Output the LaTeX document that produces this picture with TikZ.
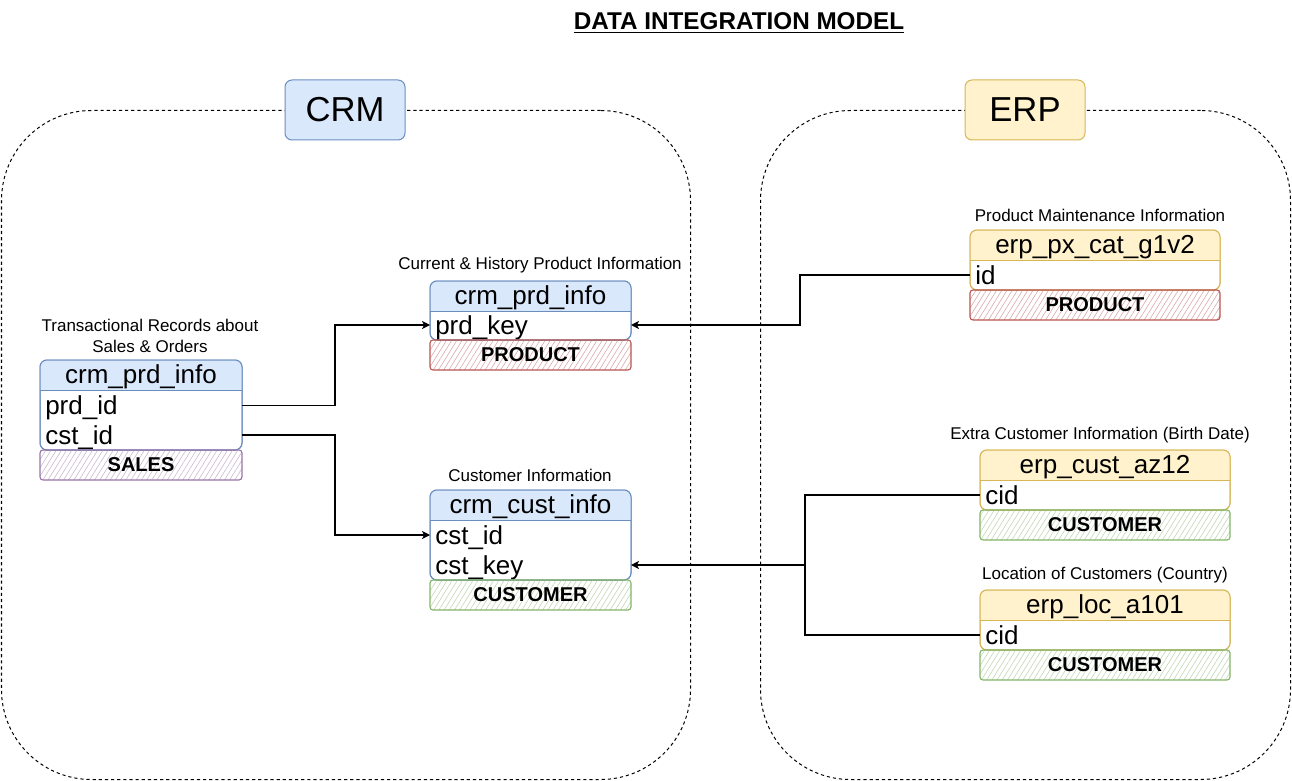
\documentclass[tikz,border=0pt]{standalone}
\usepackage{fontspec}
\setmainfont{Liberation Sans}
\usetikzlibrary{arrows.meta,patterns.meta,calc}
\newcommand{\px}{*0.75pt}
\definecolor{bluef}{HTML}{DAE8FC}
\definecolor{blues}{HTML}{6C8EBF}
\definecolor{yelf}{HTML}{FFF2CC}
\definecolor{yels}{HTML}{D6B656}
\definecolor{reds}{HTML}{B85450}
\definecolor{grns}{HTML}{82B366}
\definecolor{purs}{HTML}{9673A6}
\newcommand{\tabfont}{\fontsize{19.5}{22}\selectfont}
\newcommand{\lblfont}{\fontsize{12.75}{15.75}\selectfont}
\newcommand{\tagfont}{\fontsize{15}{18}\selectfont\bfseries}
\newcommand{\grpfont}{\fontsize{26}{30}\selectfont}
\newcommand{\ttlfont}{\fontsize{18.2}{20}\selectfont\bfseries}
% name, left x, top y, width, height, fill, stroke, title
\newcommand{\dbtab}[8]{%
  \node[draw=#7, fill=white, rounded corners=7\px, minimum width=#4\px, minimum height=#5\px, anchor=north west, inner sep=0pt, outer sep=0pt, line width=1\px] (#1) at (#2,#3) {};
  \begin{scope}
    \clip[rounded corners=7\px] (#1.north west) rectangle (#1.south east);
    \fill[#6] (#1.north west) rectangle ([yshift=-30\px]#1.north east);
  \end{scope}
  \draw[#7, line width=1\px] ([yshift=-30\px]#1.north west) -- ([yshift=-30\px]#1.north east);
  \draw[#7, rounded corners=7\px, line width=1\px] (#1.north west) rectangle (#1.south east);
  \node[font=\tabfont, inner sep=0pt, anchor=base] (#1-title) at ([yshift=-23.5\px]#1.north) {#8};
}
\begin{document}
\begin{tikzpicture}[x=0.75pt,y=-0.75pt,
  grpbox/.style={draw=black, dash pattern=on 2.4pt off 2.2pt, rounded corners=90\px, line width=0.75pt, inner sep=0pt, anchor=north west},
  grplbl/.style={draw=#1, rounded corners=7\px, minimum width=120\px, minimum height=60\px, font=\grpfont, line width=1\px},
  rowtext/.style={font=\tabfont, anchor=west, inner sep=0pt, text height=14pt, text depth=4pt},
  lbl/.style={font=\lblfont, align=center, inner sep=0pt},
  tagbox/.style={draw=#1, line width=1.1\px, rounded corners=3\px, pattern={Lines[angle=58,distance=3.3pt,line width=0.45pt]}, pattern color=#1!50, minimum height=30\px, font=\tagfont, inner sep=0pt},
  link/.style={line width=0.9pt},
  conn/.style={link, -{Stealth[length=6pt,width=6pt,inset=1.6pt]}}]
\useasboundingbox (0,0) rectangle (1292,781);

% title
\node[font=\ttlfont, anchor=base, inner sep=0pt] (title) at (739,30) {\underline{DATA INTEGRATION MODEL}};

% containers
\node[grpbox, minimum width=689\px, minimum height=669\px] (crmarea) at (1,110) {};
\node[grpbox, minimum width=530\px, minimum height=669\px] (erparea) at (760,110) {};
\node[grplbl=blues, fill=bluef] (crmlbl) at (345,110) {CRM};
\node[grplbl=yels, fill=yelf] (erplbl) at (1025,110) {ERP};

% CRM: sales
\node[lbl] (sales-lbl) at (150,335.5) {Transactional Records about\\Sales \& Orders};
\dbtab{sales}{40}{360}{202}{90}{bluef}{blues}{crm\_prd\_info}
\node[rowtext] (sales-r1) at (45,408) {prd\_id};
\node[rowtext] (sales-r2) at (45,437.5) {cst\_id};
\node[tagbox=purs, minimum width=202\px] (sales-tag) at (141,465) {SALES};

% CRM: product
\node[lbl] (crmprd-lbl) at (540,265) {Current \& History Product Information};
\dbtab{crmprd}{430}{281}{201}{59}{bluef}{blues}{crm\_prd\_info}
\node[rowtext] (crmprd-r1) at (435,327.5) {prd\_key};
\node[tagbox=reds, minimum width=201\px] (crmprd-tag) at (530.5,355) {PRODUCT};

% CRM: customer
\node[lbl] (crmcust-lbl) at (530,475) {Customer Information};
\dbtab{crmcust}{430}{490}{201}{90}{bluef}{blues}{crm\_cust\_info}
\node[rowtext] (crmcust-r1) at (435,537.5) {cst\_id};
\node[rowtext] (crmcust-r2) at (435,567.5) {cst\_key};
\node[tagbox=grns, minimum width=201\px] (crmcust-tag) at (530.5,595) {CUSTOMER};

% ERP: px cat
\node[lbl] (erppx-lbl) at (1100,215) {Product Maintenance Information};
\dbtab{erppx}{970}{230}{250}{60}{yelf}{yels}{erp\_px\_cat\_g1v2}
\node[rowtext] (erppx-r1) at (975,277.5) {id};
\node[tagbox=reds, minimum width=250\px] (erppx-tag) at (1095,305) {PRODUCT};

% ERP: cust
\node[lbl] (erpcust-lbl) at (1100,435) {Extra Customer Information (Birth Date)};
\dbtab{erpcust}{980}{450}{250}{60}{yelf}{yels}{erp\_cust\_az12}
\node[rowtext] (erpcust-r1) at (985,497.5) {cid};
\node[tagbox=grns, minimum width=250\px] (erpcust-tag) at (1105,525) {CUSTOMER};

% ERP: loc
\node[lbl] (erploc-lbl) at (1105,575) {Location of Customers (Country)};
\dbtab{erploc}{980}{590}{250}{60}{yelf}{yels}{erp\_loc\_a101}
\node[rowtext] (erploc-r1) at (985,637.5) {cid};
\node[tagbox=grns, minimum width=250\px] (erploc-tag) at (1105,665) {CUSTOMER};

% connectors
\coordinate (ljoinA) at (335,325);
\coordinate (ljoinB) at (335,535);
\draw[conn] (sales.east |- 0,405.5) -| (ljoinA) -- (crmprd.west |- ljoinA);
\draw[conn] (sales.east |- 0,435) -| (ljoinB) -- (crmcust.west |- ljoinB);
\coordinate (rjoinA) at (800,325);
\draw[conn] (erppx.west |- 0,275) -| (rjoinA) -- (crmprd.east |- rjoinA);
\coordinate (join) at (805,565);
\draw[conn] (erpcust.west |- 0,495) -| (join) -- (crmcust.east |- join);
\draw[link] (erploc.west |- 0,635) -| (join);
\end{tikzpicture}
\end{document}
